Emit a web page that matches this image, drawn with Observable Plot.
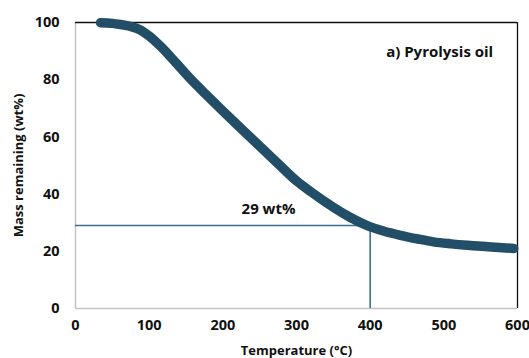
<!DOCTYPE html>
<html>
<head>
<meta charset="utf-8">
<script src="https://cdn.jsdelivr.net/npm/d3@7"></script>
<script src="https://cdn.jsdelivr.net/npm/@observablehq/plot@0.6"></script>
<style>
  html, body { margin: 0; padding: 0; background: #fff; }
  #chart svg { font-family: "Open Sans", "Liberation Sans", sans-serif; }
</style>
</head>
<body>
<div id="chart"></div>
<script>
const temperature = [34, 50, 61, 75, 88, 100, 115, 136, 156, 176, 197, 218, 238, 258, 278, 300, 319, 335, 350, 372, 396, 418, 441, 465, 486, 510, 532, 560, 595];
const massRemaining = [99.9, 99.7, 99.3, 98.6, 97.4, 95.3, 91.8, 86.0, 80.3, 75.1, 69.8, 64.6, 59.7, 54.8, 49.9, 44.6, 40.9, 38.0, 35.4, 32.0, 29.0, 27.1, 25.6, 24.3, 23.3, 22.6, 22.1, 21.6, 21.0];
const xTicks = [0, 100, 200, 300, 400, 500, 600];
const yTicks = [0, 20, 40, 60, 80, 100];
const marker = { temperature: 400, mass: 29, label: "29 wt%" };
const panelLabel = "a) Pyrolysis oil";

const data = temperature.map((t, i) => ({ t, m: massRemaining[i] }));

const chart = Plot.plot({
  width: 529,
  height: 358,
  marginLeft: 75,
  marginRight: 12,
  marginTop: 22,
  marginBottom: 50,
  style: { fontFamily: "'Open Sans', 'Liberation Sans', sans-serif", fontWeight: "bold", color: "#111" },
  x: { domain: [0, 600], ticks: xTicks, tickSize: 0, tickPadding: 11, label: "Temperature (°C)", labelAnchor: "center", labelOffset: 46, labelArrow: "none" },
  y: { domain: [0, 100], ticks: yTicks, tickSize: 0, tickPadding: 16, label: "Mass remaining (wt%)", labelAnchor: "center", labelOffset: 62, labelArrow: "none" },
  marks: [
    Plot.ruleX([0], { stroke: "#c4c4c4", strokeWidth: 1.5 }),
    Plot.ruleY([0], { stroke: "#c4c4c4", strokeWidth: 1.5 }),
    Plot.ruleY([100], { stroke: "#111", strokeWidth: 1.3 }),
    Plot.ruleX([600], { stroke: "#111", strokeWidth: 1.3 }),
    Plot.ruleY([marker.mass], { x1: 0, x2: marker.temperature, stroke: "#3c6e8e", strokeWidth: 1.6 }),
    Plot.ruleX([marker.temperature], { y1: 0, y2: marker.mass, stroke: "#3c6e8e", strokeWidth: 1.6 }),
    Plot.line(data, { x: "t", y: "m", stroke: "#234e68", strokeWidth: 9.5, strokeLinecap: "round", strokeLinejoin: "round", curve: "monotone-x" }),
    Plot.text([marker.label], { x: 262, y: 34.6, text: d => d, fontSize: 15, fontWeight: "bold", fill: "#111" }),
    Plot.text([panelLabel], { x: 567, y: 89.5, text: d => d, textAnchor: "end", fontSize: 15, fontWeight: "bold", fill: "#111" })
  ]
});
chart.querySelectorAll('[aria-label="x-axis tick label"], [aria-label="y-axis tick label"]').forEach(g => g.setAttribute("font-size", "14.5"));
chart.querySelectorAll('[aria-label="x-axis label"], [aria-label="y-axis label"]').forEach(g => g.setAttribute("font-size", "13"));
document.getElementById("chart").appendChild(chart);
</script>
</body>
</html>
